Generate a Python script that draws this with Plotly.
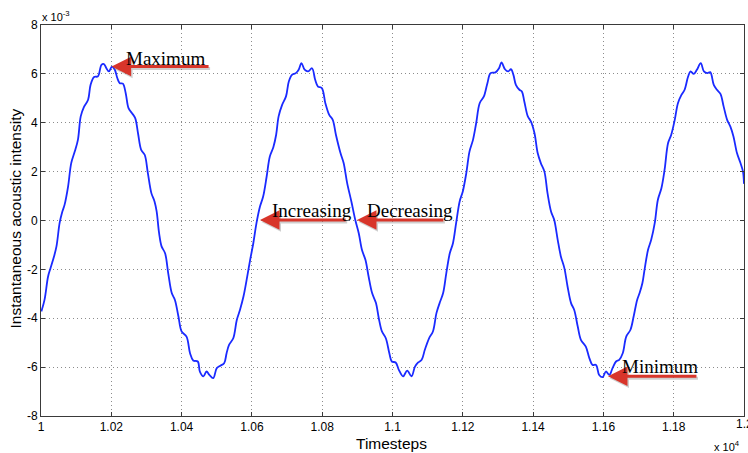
import plotly.graph_objects as go

# Timesteps (x) and instantaneous acoustic intensity (y, in units of 1e-3)
timesteps = [
    10001, 10010, 10020, 10027, 10037, 10044, 10053, 10060, 10067, 10077, 10086, 10096,
    10105, 10113, 10122, 10134, 10141, 10151, 10162, 10172, 10179, 10186, 10193, 10202,
    10210, 10217, 10224, 10233, 10241, 10249, 10259, 10268, 10276, 10285, 10295, 10304,
    10314, 10323, 10329, 10336, 10343, 10353, 10362, 10372, 10381, 10391, 10400, 10414,
    10424, 10433, 10446, 10452, 10462, 10471, 10479, 10490, 10500, 10509, 10521, 10528,
    10535, 10547, 10557, 10566, 10576, 10585, 10595, 10604, 10613, 10623, 10632, 10642,
    10651, 10661, 10669, 10676, 10686, 10697, 10705, 10714, 10725, 10733, 10741, 10750,
    10760, 10771, 10780, 10788, 10799, 10809, 10820, 10830, 10839, 10852, 10861, 10871,
    10883, 10894, 10904, 10913, 10923, 10932, 10942, 10953, 10961, 10970, 10981, 10991,
    10998, 11009, 11018, 11030, 11042, 11054, 11064, 11073, 11083, 11092, 11104, 11115,
    11125, 11134, 11144, 11153, 11163, 11172, 11181, 11191, 11200, 11210, 11219, 11229,
    11238, 11248, 11260, 11270, 11279, 11293, 11303, 11310, 11320, 11329, 11337, 11344,
    11351, 11361, 11368, 11375, 11385, 11394, 11404, 11413, 11422, 11432, 11441, 11451,
    11460, 11470, 11479, 11489, 11498, 11508, 11517, 11527, 11536, 11550, 11560, 11569,
    11579, 11588, 11598, 11607, 11617, 11626, 11636, 11645, 11655, 11665, 11677, 11686,
    11696, 11703, 11711, 11717, 11727, 11736, 11746, 11755, 11765, 11774, 11784, 11793,
    11803, 11812, 11822, 11831, 11841, 11848, 11857, 11866, 11877, 11886, 11896, 11904,
    11914, 11923, 11933, 11942, 11952, 11961, 11970, 11980, 11990, 11997, 12000,
]
intensity_e3 = [
    -3.72, -3.25, -2.30, -1.95, -1.47, -1.06, -0.10, 0.33, 0.64, 1.39, 2.35, 2.82,
    3.30, 4.26, 4.64, 4.94, 5.55, 5.87, 5.90, 6.37, 6.40, 6.23, 6.10, 6.30,
    6.17, 5.83, 5.62, 5.60, 5.21, 4.60, 4.39, 4.19, 3.57, 2.89, 2.69, 1.94,
    1.12, 0.78, 0.37, -0.52, -1.06, -1.34, -2.16, -2.97, -3.25, -3.93, -4.54, -4.75,
    -5.43, -5.73, -5.77, -6.18, -6.38, -6.18, -6.32, -6.45, -6.04, -5.95, -5.84, -5.43,
    -5.09, -4.82, -4.07, -3.66, -3.11, -2.43, -1.61, -0.93, -0.11, 0.57, 0.98, 1.80,
    2.62, 3.00, 3.51, 4.26, 4.73, 5.08, 5.69, 5.96, 6.03, 6.17, 6.44, 6.17,
    6.10, 6.23, 5.76, 5.48, 5.42, 4.80, 4.32, 4.12, 3.51, 2.76, 2.35, 1.53,
    0.78, 0.03, -0.52, -1.20, -1.61, -2.29, -2.97, -3.38, -4.00, -4.54, -4.82, -5.43,
    -5.77, -5.81, -6.11, -6.38, -6.14, -6.38, -5.98, -5.81, -5.70, -5.29, -4.82, -4.54,
    -3.79, -3.38, -2.97, -2.16, -1.34, -0.93, -0.11, 0.78, 1.19, 1.94, 2.82, 3.30,
    3.98, 4.80, 5.08, 5.62, 6.03, 6.06, 6.23, 6.47, 6.19, 6.10, 6.19, 5.96,
    5.55, 5.35, 5.28, 4.87, 4.26, 4.05, 3.57, 2.76, 2.35, 2.01, 1.12, 0.37,
    0.03, -0.79, -1.47, -1.95, -2.70, -3.38, -3.66, -4.34, -4.88, -5.16, -5.63, -5.91,
    -5.91, -6.32, -6.41, -6.18, -6.32, -6.04, -5.77, -5.70, -5.43, -4.75, -4.47, -3.93,
    -3.25, -2.97, -2.56, -2.02, -1.20, -0.79, -0.11, 0.85, 1.32, 2.07, 3.17, 3.51,
    4.12, 4.80, 5.14, 5.35, 5.89, 6.10, 6.00, 6.17, 6.44, 6.10, 6.03, 6.07,
    5.55, 5.35, 5.18, 4.67, 4.12, 3.85, 3.44, 2.76, 2.35, 2.01, 1.50,
]

x_tick_vals = [10000, 10200, 10400, 10600, 10800, 11000, 11200, 11400, 11600, 11800, 12000]
x_tick_text = ["1", "1.02", "1.04", "1.06", "1.08", "1.1", "1.12", "1.14", "1.16", "1.18", "1.2"]
y_tick_vals = [-8, -6, -4, -2, 0, 2, 4, 6, 8]
y_tick_text = ["-8", "-6", "-4", "-2", "0", "2", "4", "6", "8"]

# annotation labels: (text, text x, text y, arrow tip x, arrow tip y, arrow tail x)
labels = ["Maximum", "Increasing", "Decreasing", "Minimum"]
label_x = [10353, 10772, 11051, 11762]
label_y = [6.62, 0.39, 0.39, -5.96]
tip_x = [10201, 10623, 10899, 11613]
tip_y = [6.30, 0.02, 0.02, -6.37]
tail_x = [10481, 10871, 11149, 11869]

fig = go.Figure()
fig.add_trace(go.Scatter(
    x=timesteps, y=intensity_e3, mode="lines",
    line=dict(color="#1a2aff", width=1.8, shape="spline", smoothing=1.0),
    showlegend=False, hoverinfo="skip",
))

tick_font = dict(family="Liberation Sans, Arial, sans-serif", size=12, color="black")
axis_common = dict(
    showline=True, linecolor="#3a3a3a", linewidth=1, mirror="ticks",
    ticks="inside", ticklen=4, tickcolor="#3a3a3a",
    showgrid=True, gridcolor="#8c8c8c", griddash="1px,3px", gridwidth=1,
    zeroline=False, tickfont=tick_font,
)
fig.update_xaxes(range=[10000, 12000], tickmode="array", tickvals=x_tick_vals[:-1],
                 ticktext=x_tick_text[:-1], **axis_common)
fig.update_yaxes(range=[-8, 8], tickmode="array", tickvals=y_tick_vals,
                 ticktext=y_tick_text, **axis_common)

annotations = []
for i, lab in enumerate(labels):
    # shadow
    annotations.append(dict(
        x=tip_x[i], y=tip_y[i], ax=tail_x[i], ay=tip_y[i], xref="x", yref="y",
        axref="x", ayref="y", showarrow=True, arrowhead=2, arrowsize=1.3,
        arrowwidth=3, arrowcolor="rgba(120,120,120,0.35)", text="",
        xshift=1.5, yshift=-2, standoff=0,
    ))
    annotations.append(dict(
        x=tip_x[i], y=tip_y[i], ax=tail_x[i], ay=tip_y[i], xref="x", yref="y",
        axref="x", ayref="y", showarrow=True, arrowhead=2, arrowsize=1.3,
        arrowwidth=3, arrowcolor="#d8352a", text="", standoff=0,
    ))
    annotations.append(dict(
        x=label_x[i], y=label_y[i], xref="x", yref="y", text=lab, showarrow=False,
        xanchor="center", yanchor="middle",
        font=dict(family="Liberation Serif, Times New Roman, serif", size=19, color="black"),
    ))

annotations += [
    # last x tick label, partly cut by the right edge as in the reference
    dict(text=x_tick_text[-1], xref="x", yref="paper", x=x_tick_vals[-1], y=-(424 - 416) / 391,
         xanchor="center", yanchor="middle", showarrow=False, font=tick_font),
    dict(text="Instantaneous acoustic intensity", xref="paper", yref="paper",
         x=-41 / 703 + 15 / 703, y=(416 - 218.5) / 391, textangle=-90, showarrow=False,
         xanchor="center", yanchor="middle",
         font=dict(family="Liberation Sans, Arial, sans-serif", size=15.5, color="black")),
    dict(text="Timesteps", xref="paper", yref="paper",
         x=(391 - 41) / 703, y=-(443 - 416) / 391, showarrow=False,
         xanchor="center", yanchor="middle",
         font=dict(family="Liberation Sans, Arial, sans-serif", size=15.5, color="black")),
    dict(text="x 10<sup>-3</sup>", xref="paper", yref="paper", x=0, y=1,
         xanchor="left", yanchor="bottom", showarrow=False, xshift=-1,
         font=dict(family="Liberation Sans, Arial, sans-serif", size=11, color="black")),
    dict(text="x 10<sup>4</sup>", xref="paper", yref="paper", x=1, y=-(446 - 416) / 391,
         xanchor="right", yanchor="middle", showarrow=False, xshift=-2,
         font=dict(family="Liberation Sans, Arial, sans-serif", size=11, color="black")),
]

fig.update_layout(
    width=748, height=453,
    margin=dict(l=41, r=4, t=25, b=37, autoexpand=False),
    plot_bgcolor="white", paper_bgcolor="white",
    annotations=annotations,
)

fig.write_html(
    "out.html",
    config={"displayModeBar": False},
    post_script="document.body.style.margin='0';document.body.style.padding='0';"
                "document.body.style.overflow='hidden';",
)
